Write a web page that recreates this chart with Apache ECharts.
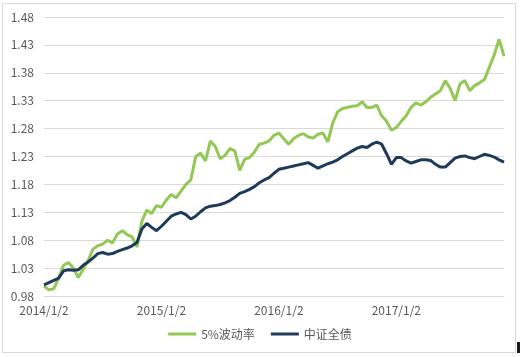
<!DOCTYPE html>
<html>
<head>
<meta charset="utf-8">
<script src="https://cdn.jsdelivr.net/npm/echarts@6/dist/echarts.min.js"></script>
<style>
html,body{margin:0;padding:0;background:#fff;}
#c{width:520px;height:357px;}
</style>
</head>
<body>
<div id="c"></div>
<script>
// Half-monthly sampling points from 2014/1/2 to 2017/12/2
const years = [2014, 2015, 2016, 2017];
const categories = [];
for (const y of years) {
  for (let m = 1; m <= 12; m++) {
    categories.push(y + '/' + m + '/2');
    categories.push(y + '/' + m + '/16');
  }
}
categories.length = 95;

const tickLabels = ['2014/1/2', '2015/1/2', '2016/1/2', '2017/1/2'];

const vol5 = [
  0.998, 0.991, 0.993, 1.012, 1.035, 1.040, 1.030, 1.013, 1.028, 1.043,
  1.064, 1.070, 1.073, 1.080, 1.075, 1.091, 1.097, 1.090, 1.086, 1.068,
  1.114, 1.134, 1.128, 1.142, 1.139, 1.152, 1.162, 1.156, 1.168, 1.180,
  1.188, 1.230, 1.236, 1.222, 1.258, 1.248, 1.226, 1.232, 1.244, 1.240,
  1.205, 1.225, 1.228, 1.238, 1.252, 1.254, 1.258, 1.268, 1.272, 1.262,
  1.252, 1.262, 1.268, 1.271, 1.265, 1.263, 1.270, 1.272, 1.256, 1.290,
  1.310, 1.316, 1.318, 1.320, 1.321, 1.328, 1.318, 1.318, 1.322, 1.303,
  1.293, 1.277, 1.282, 1.293, 1.303, 1.318, 1.326, 1.322, 1.328, 1.336,
  1.342, 1.348, 1.366, 1.352, 1.330, 1.360, 1.366, 1.348, 1.357, 1.362,
  1.368, 1.390, 1.412, 1.440, 1.410
];

const bondIndex = [
  1.000, 1.004, 1.008, 1.012, 1.025, 1.027, 1.026, 1.027, 1.035, 1.041,
  1.048, 1.056, 1.058, 1.055, 1.056, 1.060, 1.063, 1.066, 1.070, 1.076,
  1.100, 1.110, 1.103, 1.097, 1.105, 1.114, 1.123, 1.127, 1.130, 1.126,
  1.118, 1.123, 1.131, 1.138, 1.141, 1.142, 1.144, 1.147, 1.151, 1.157,
  1.164, 1.167, 1.171, 1.176, 1.183, 1.188, 1.192, 1.200, 1.207, 1.209,
  1.211, 1.213, 1.215, 1.217, 1.219, 1.214, 1.209, 1.213, 1.217, 1.220,
  1.224, 1.230, 1.235, 1.240, 1.245, 1.248, 1.246, 1.252, 1.256, 1.252,
  1.235, 1.216, 1.228, 1.228, 1.222, 1.218, 1.221, 1.224, 1.224, 1.223,
  1.216, 1.211, 1.211, 1.219, 1.227, 1.230, 1.231, 1.228, 1.226, 1.230,
  1.234, 1.232, 1.229, 1.224, 1.220
];

const chart = echarts.init(document.getElementById('c'), null, {renderer: 'canvas'});
const labelFont = '"Noto Sans CJK SC", "DejaVu Sans", sans-serif';
chart.setOption({
  backgroundColor: '#ffffff',
  animation: false,
  graphic: [{
    type: 'rect',
    shape: {x: 2.5, y: 3.5, width: 513, height: 349},
    style: {fill: 'none', stroke: '#d9d9d9', lineWidth: 1},
    silent: true
  }, {
    type: 'rect',
    shape: {x: 517, y: 342, width: 3, height: 11},
    style: {fill: '#1a1a1a'},
    silent: true
  }],
  grid: {left: 44, right: 16, top: 17, bottom: 61, containLabel: false},
  legend: {
    bottom: 12,
    left: 'center',
    icon: 'rect',
    itemWidth: 28,
    itemHeight: 3,
    itemGap: 16,
    textStyle: {color: '#595959', fontSize: 12, fontFamily: labelFont},
    data: ['5%波动率', '中证全债']
  },
  xAxis: {
    type: 'category',
    data: categories,
    boundaryGap: false,
    axisLine: {show: true, lineStyle: {color: '#d9d9d9'}},
    axisTick: {show: false},
    axisLabel: {
      color: '#595959',
      fontSize: 12,
      fontFamily: labelFont,
      margin: 8,
      interval: function (idx, val) { return tickLabels.indexOf(val) >= 0; },
      formatter: function (val) { return tickLabels.indexOf(val) >= 0 ? val : ''; }
    },
    splitLine: {show: false}
  },
  yAxis: {
    type: 'value',
    min: 0.98,
    max: 1.48,
    interval: 0.05,
    axisLine: {show: false},
    axisTick: {show: false},
    axisLabel: {
      color: '#595959',
      fontSize: 12,
      fontFamily: labelFont,
      margin: 10,
      formatter: function (v) { return v.toFixed(2); }
    },
    splitLine: {show: true, lineStyle: {color: '#d9d9d9', width: 1}}
  },
  series: [
    {
      name: '5%波动率',
      type: 'line',
      data: vol5,
      showSymbol: false,
      symbol: 'none',
      lineStyle: {color: '#92c853', width: 3},
      itemStyle: {color: '#92c853'},
      z: 2
    },
    {
      name: '中证全债',
      type: 'line',
      data: bondIndex,
      showSymbol: false,
      symbol: 'none',
      lineStyle: {color: '#1f3b5a', width: 3},
      itemStyle: {color: '#1f3b5a'},
      z: 3
    }
  ]
});
</script>
</body>
</html>
